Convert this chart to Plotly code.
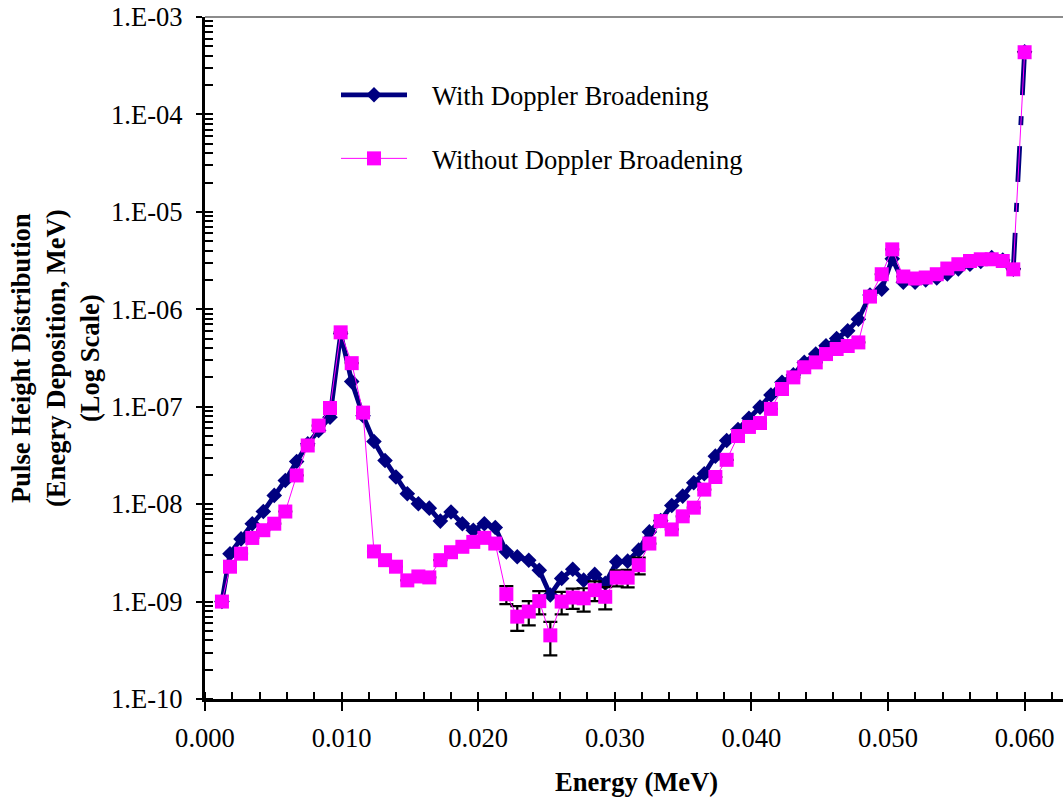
import plotly.graph_objects as go

# Energy bins (MeV)
energy = [0.00124, 0.00183, 0.00264, 0.00346, 0.00427, 0.00507, 0.00588, 0.00671, 0.00752, 0.00832,
          0.00915, 0.00993, 0.01074, 0.01157, 0.01237, 0.01318, 0.01398, 0.01481, 0.01562, 0.01642,
          0.01723, 0.01801, 0.01884, 0.01964, 0.02045, 0.02125, 0.02206, 0.02286, 0.02370, 0.02447,
          0.02528, 0.02611, 0.02692, 0.02772, 0.02853, 0.02930, 0.03014, 0.03094, 0.03175, 0.03253,
          0.03336, 0.03417, 0.03497, 0.03578, 0.03655, 0.03736, 0.03819, 0.03902, 0.03982, 0.04063,
          0.04143, 0.04224, 0.04307, 0.04387, 0.04471, 0.04546, 0.04624, 0.04705, 0.04783, 0.04868,
          0.04954, 0.05031, 0.05112, 0.05198, 0.05276, 0.05357, 0.05434, 0.05515, 0.05600, 0.05679,
          0.05759, 0.05840, 0.05917, 0.06000]

with_doppler = [1.0e-9, 3.1e-9, 4.4e-9, 6.3e-9, 8.4e-9, 1.23e-8, 1.75e-8, 2.74e-8, 4.16e-8, 5.7e-8,
                7.8e-8, 5.6e-7, 1.81e-7, 8.1e-8, 4.4e-8, 2.81e-8, 1.9e-8, 1.28e-8, 1.01e-8, 9.1e-9,
                6.7e-9, 8.3e-9, 6.3e-9, 5.4e-9, 6.3e-9, 5.75e-9, 3.24e-9, 2.88e-9, 2.66e-9, 2.1e-9,
                1.17e-9, 1.73e-9, 2.15e-9, 1.66e-9, 1.9e-9, 1.54e-9, 2.56e-9, 2.6e-9, 3.37e-9, 5.19e-9,
                6.8e-9, 9.7e-9, 1.21e-8, 1.66e-8, 2.05e-8, 3.11e-8, 4.5e-8, 5.83e-8, 7.6e-8, 9.9e-8,
                1.32e-7, 1.78e-7, 2.12e-7, 2.85e-7, 3.47e-7, 4.22e-7, 5.02e-7, 6.01e-7, 7.9e-7, 1.4e-6,
                1.61e-6, 3.3e-6, 1.9e-6, 1.9e-6, 2.0e-6, 2.1e-6, 2.3e-6, 2.6e-6, 2.9e-6, 3.1e-6,
                3.4e-6, 3.2e-6, 2.6e-6, 4.4e-4]

without_doppler = [1.0e-9, 2.28e-9, 3.1e-9, 4.5e-9, 5.4e-9, 6.3e-9, 8.4e-9, 1.97e-8, 4.0e-8, 6.4e-8,
                   9.7e-8, 5.8e-7, 2.8e-7, 8.7e-8, 3.27e-9, 2.66e-9, 2.28e-9, 1.65e-9, 1.81e-9, 1.77e-9,
                   2.66e-9, 3.21e-9, 3.65e-9, 4.1e-9, 4.51e-9, 3.94e-9, 1.19e-9, 7.0e-10, 7.9e-10, 1.01e-9,
                   4.5e-10, 1.0e-9, 1.1e-9, 1.08e-9, 1.31e-9, 1.12e-9, 1.76e-9, 1.76e-9, 2.36e-9, 3.94e-9,
                   6.7e-9, 5.5e-9, 7.5e-9, 9.2e-9, 1.41e-8, 1.9e-8, 2.85e-8, 5.0e-8, 6.2e-8, 6.8e-8,
                   9.5e-8, 1.52e-7, 2.0e-7, 2.54e-7, 2.85e-7, 3.47e-7, 3.91e-7, 4.2e-7, 4.57e-7, 1.35e-6,
                   2.29e-6, 4.12e-6, 2.17e-6, 2.07e-6, 2.12e-6, 2.29e-6, 2.62e-6, 2.9e-6, 3.13e-6, 3.26e-6,
                   3.26e-6, 3.13e-6, 2.57e-6, 4.35e-4]

without_err = [0, 0, 0, 0, 0, 0, 0, 0, 0, 0,
               0, 0, 0, 0, 0, 0, 0, 0, 0, 0,
               0, 0, 0, 0, 0, 0, 2.5e-10, 2.0e-10, 2.2e-10, 2.7e-10,
               1.7e-10, 2.6e-10, 2.6e-10, 2.9e-10, 3.0e-10, 2.9e-10, 3.3e-10, 3.6e-10, 4.6e-10, 0,
               0, 0, 0, 0, 0, 0, 0, 0, 0, 0,
               0, 0, 0, 0, 0, 0, 0, 0, 0, 0,
               0, 0, 0, 0, 0, 0, 0, 0, 0, 0,
               0, 0, 0, 0]

y_tick_vals = [1e-10, 1e-9, 1e-8, 1e-7, 1e-6, 1e-5, 1e-4, 1e-3]
y_tick_text = ["1.E-10", "1.E-09", "1.E-08", "1.E-07", "1.E-06", "1.E-05", "1.E-04", "1.E-03"]

NAVY = "#000080"
PINK = "#FF00FF"
FONT = "Liberation Serif, Times New Roman, serif"
FS = 26.6
PAD = "\u00a0\u00a0\u00a0"
X_RANGE = [0, 0.06281]

fig = go.Figure()

fig.add_trace(go.Scatter(
    x=energy[:-1], y=with_doppler[:-1], mode="lines+markers",
    name=PAD + "With Doppler Broadening", legendgroup="a",
    line=dict(color=NAVY, width=4.8),
    marker=dict(symbol="diamond", size=12, color=NAVY),
))
fig.add_trace(go.Scatter(
    x=energy[-2:], y=with_doppler[-2:], mode="lines+markers",
    showlegend=False, legendgroup="a",
    line=dict(color=NAVY, width=4.8, dash="36px,21px,9px,21px"),
    marker=dict(symbol="diamond", size=12, color=NAVY),
))
fig.add_trace(go.Scatter(
    x=energy, y=without_doppler, mode="lines+markers",
    name=PAD + "Without Doppler Broadening", legendgroup="b",
    line=dict(color=PINK, width=1),
    marker=dict(symbol="square", size=14, color=PINK),
    error_y=dict(type="data", array=without_err, visible=True,
                 color="black", thickness=2.2, width=7),
))

fig.update_layout(
    width=1063, height=800,
    margin=dict(l=205, r=0, t=17, b=101),
    paper_bgcolor="white", plot_bgcolor="white",
    font=dict(family=FONT, size=FS, color="black"),
    showlegend=True,
    legend=dict(
        x=(336 - 205) / 858, y=(699 - 71) / 682, xanchor="left", yanchor="top",
        bgcolor="rgba(0,0,0,0)", traceorder="grouped", tracegroupgap=26,
        itemwidth=66, font=dict(family=FONT, size=FS, color="black"),
    ),
    xaxis=dict(
        range=X_RANGE, tick0=0, dtick=0.01, tickformat=".3f",
        showline=True, linecolor="black", linewidth=3,
        ticks="outside", ticklen=9, tickwidth=2, tickcolor="black",
        minor=dict(dtick=0.002, ticks="inside", ticklen=7, tickwidth=2, tickcolor="black"),
        showgrid=False, zeroline=False,
        tickfont=dict(family=FONT, size=FS, color="black"),
        ticklabelstandoff=4,
    ),
    xaxis2=dict(
        overlaying="x", anchor="y", side="bottom", range=X_RANGE, tick0=0, dtick=0.01,
        ticks="inside", ticklen=6, tickwidth=2, tickcolor="black",
        showticklabels=False, showline=False, showgrid=False, zeroline=False,
    ),
    yaxis=dict(
        type="log", range=[-10, -3],
        tickvals=y_tick_vals, ticktext=y_tick_text,
        showline=True, linecolor="black", linewidth=3,
        ticks="outside", ticklen=6, tickwidth=2, tickcolor="black",
        minor=dict(dtick="D1", ticks="inside", ticklen=8, tickwidth=2, tickcolor="black"),
        showgrid=False, zeroline=False,
        tickfont=dict(family=FONT, size=FS, color="black"),
        ticklabelstandoff=8,
    ),
    yaxis2=dict(
        overlaying="y", anchor="x", side="left", type="log", range=[-10, -3],
        tickvals=y_tick_vals, ticks="inside", ticklen=10, tickwidth=2, tickcolor="black",
        showticklabels=False, showline=False, showgrid=False, zeroline=False,
    ),
    shapes=[dict(type="line", xref="paper", yref="paper", x0=0, x1=1, y0=1, y1=1,
                 line=dict(color="#8c8c8c", width=2))],
    annotations=[
        dict(text="<b>Energy (MeV)</b>", xref="paper", yref="paper",
             x=(636 - 205) / 858, y=(699 - 782) / 682, xanchor="center", yanchor="middle",
             showarrow=False, font=dict(family=FONT, size=FS, color="black")),
        dict(text="<b>Pulse Height Distribution<br>(Enegry Deposition, MeV)<br>(Log Scale)</b>",
             xref="paper", yref="paper", x=(55 - 205) / 858, y=0.5,
             xanchor="center", yanchor="middle", textangle=-90, showarrow=False,
             font=dict(family=FONT, size=FS, color="black")),
    ],
)

fig.write_html("out.html")
